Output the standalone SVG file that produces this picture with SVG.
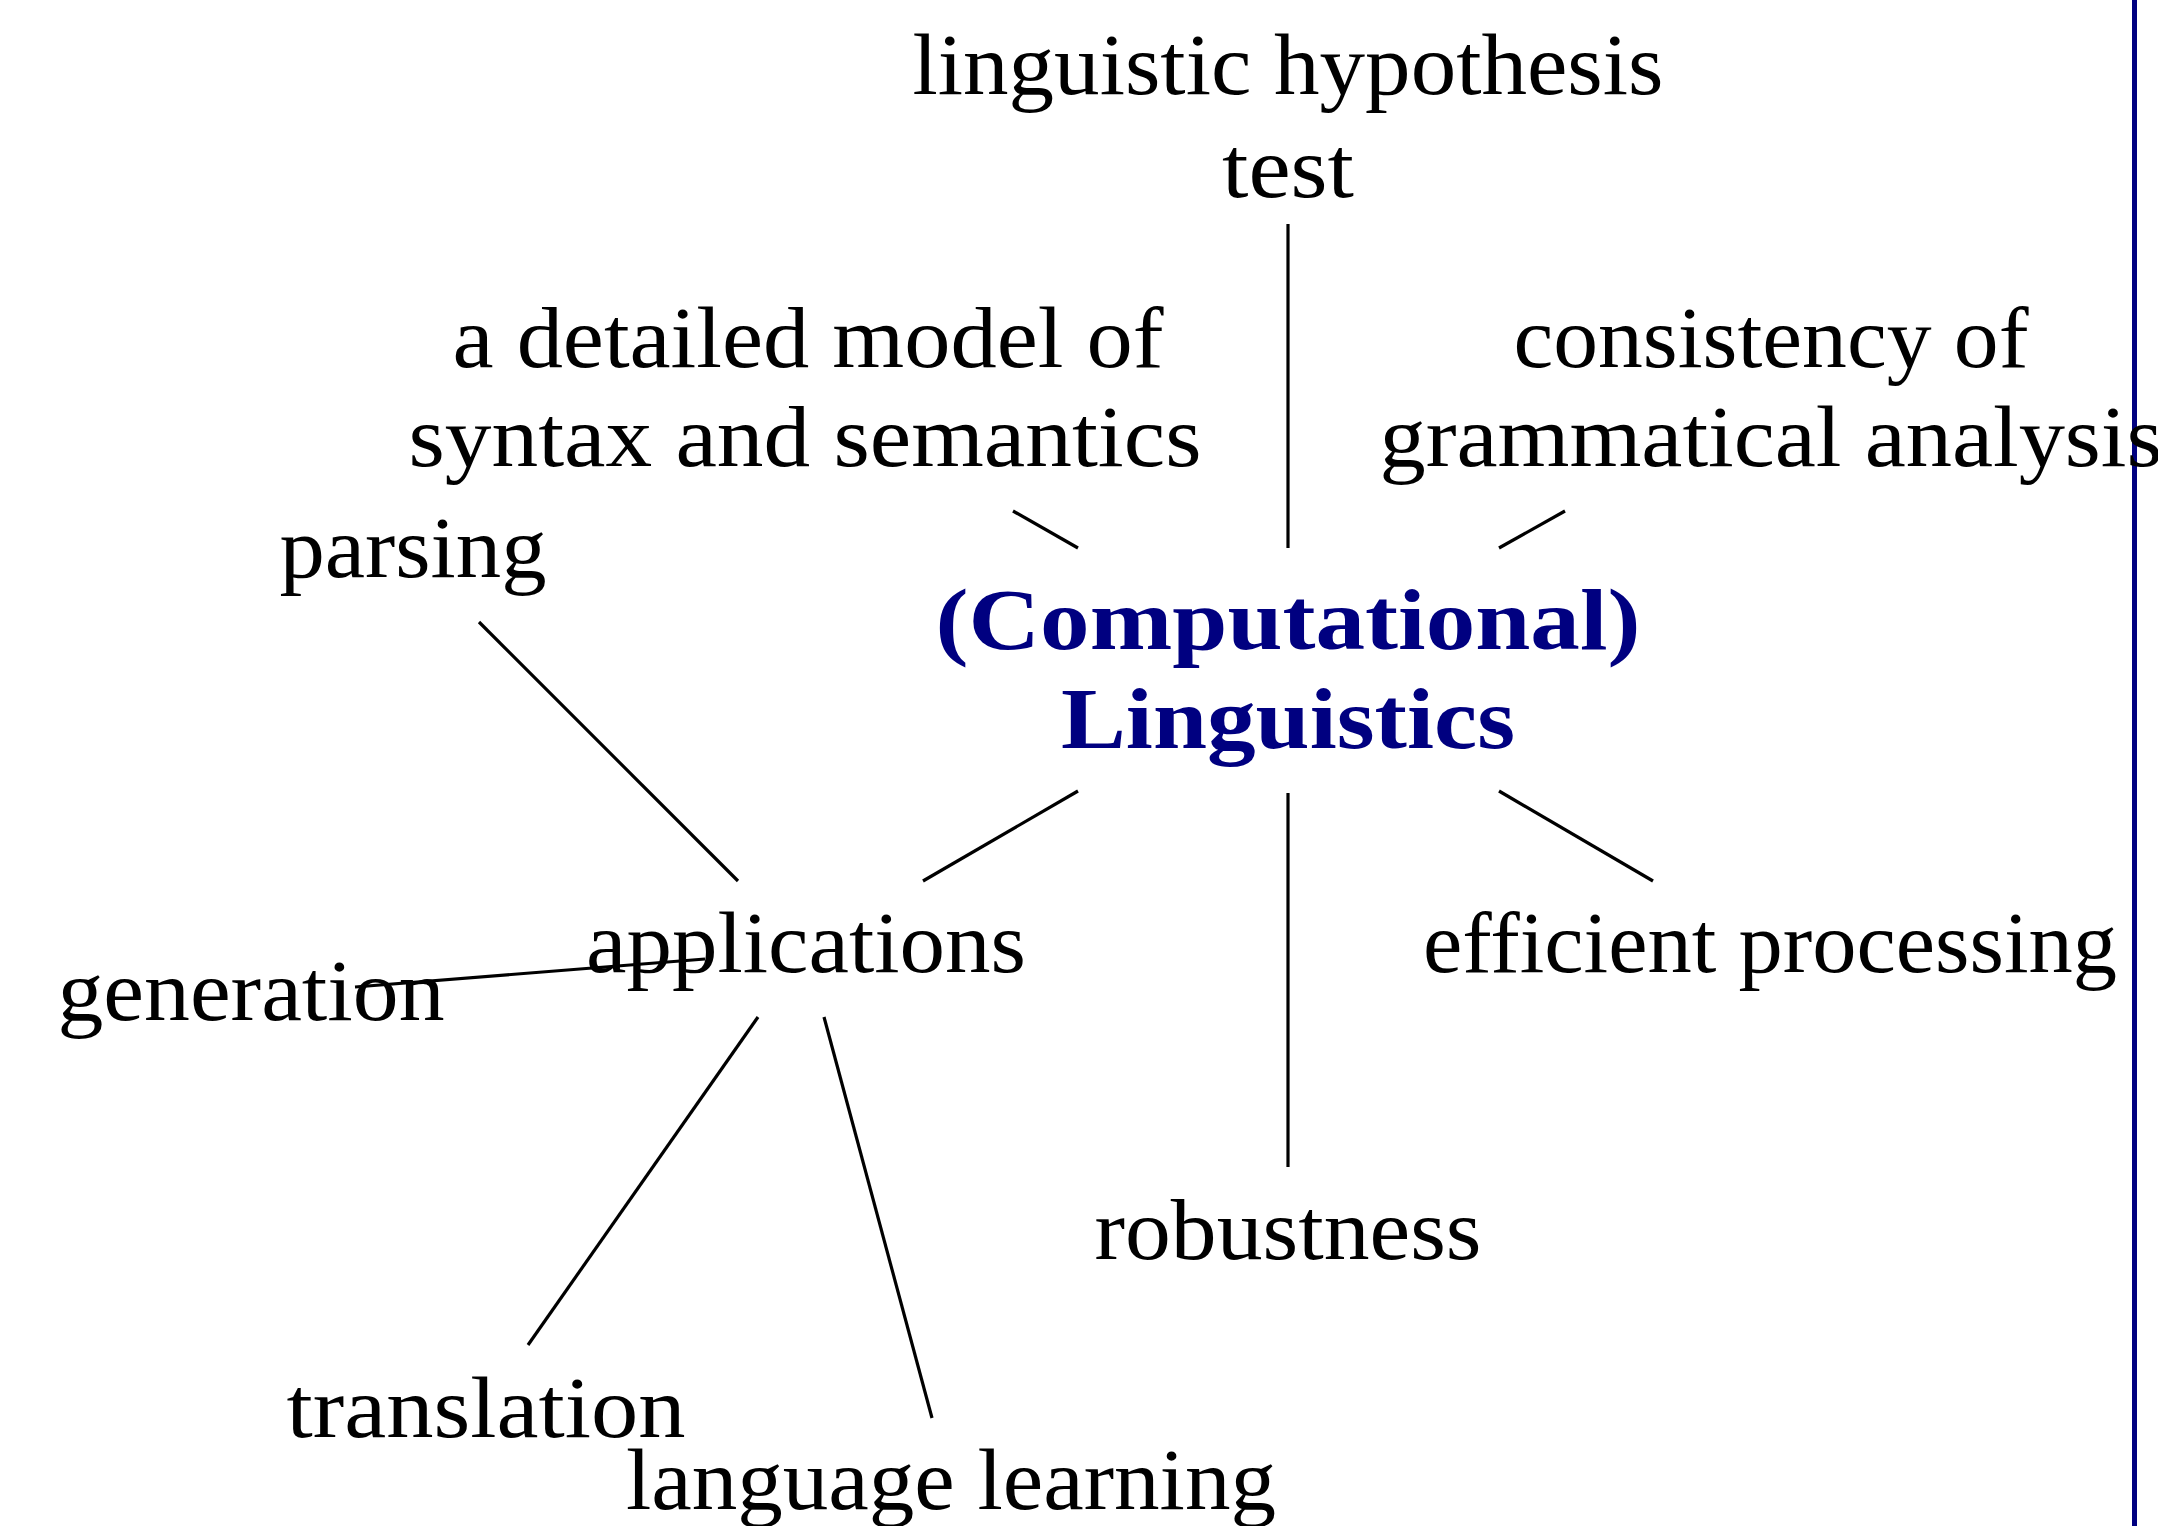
<svg xmlns="http://www.w3.org/2000/svg" width="2158" height="1526" viewBox="0 0 2158 1526">
  <style>
    .t { font-family: "Liberation Serif", "Times New Roman", serif; font-size: 86px; fill: #000; text-anchor: middle; }
    .hub { font-family: "Liberation Serif", "Times New Roman", serif; font-size: 86px; font-weight: bold; fill: #000080; text-anchor: middle; }
    .edge { stroke: #000; stroke-width: 3.2; fill: none; }
  </style>
  <rect x="0" y="0" width="2158" height="1526" fill="#fff"/>

  <!-- frame rule on the right -->
  <rect id="frame-rule" x="2132" y="0" width="5" height="1526" fill="#000080"/>

  <g id="hub">
    <text class="hub" x="1288" y="649" textLength="705" lengthAdjust="spacingAndGlyphs">(Computational)</text>
    <text class="hub" x="1288" y="748" textLength="454" lengthAdjust="spacingAndGlyphs">Linguistics</text>
  </g>

  <g id="hypothesis-test">
    <text class="t" x="1288" y="94" textLength="751" lengthAdjust="spacingAndGlyphs">linguistic hypothesis</text>
    <text class="t" x="1288" y="197" textLength="132" lengthAdjust="spacingAndGlyphs">test</text>
  </g>

  <g id="detailed-model">
    <text class="t" x="808" y="367" textLength="711" lengthAdjust="spacingAndGlyphs">a detailed model of</text>
    <text class="t" x="805" y="466" textLength="793" lengthAdjust="spacingAndGlyphs">syntax and semantics</text>
  </g>

  <g id="consistency">
    <text class="t" x="1771" y="367" textLength="515" lengthAdjust="spacingAndGlyphs">consistency of</text>
    <text class="t" x="1771" y="466" textLength="783" lengthAdjust="spacingAndGlyphs">grammatical analysis</text>
  </g>

  <g id="applications">
    <text class="t" x="806" y="972" textLength="440" lengthAdjust="spacingAndGlyphs">applications</text>
  </g>

  <g id="efficient-processing">
    <text class="t" x="1770" y="972" textLength="694" lengthAdjust="spacingAndGlyphs">efficient processing</text>
  </g>

  <g id="robustness">
    <text class="t" x="1288" y="1259" textLength="387" lengthAdjust="spacingAndGlyphs">robustness</text>
  </g>

  <g id="parsing">
    <text class="t" x="413" y="577" textLength="267" lengthAdjust="spacingAndGlyphs">parsing</text>
  </g>

  <g id="generation">
    <text class="t" x="251" y="1020" textLength="387" lengthAdjust="spacingAndGlyphs">generation</text>
  </g>

  <g id="translation">
    <text class="t" x="486" y="1437" textLength="399" lengthAdjust="spacingAndGlyphs">translation</text>
  </g>

  <g id="language-learning">
    <text class="t" x="951" y="1509" textLength="650" lengthAdjust="spacingAndGlyphs">language learning</text>
  </g>

  <g id="connectors">
    <line class="edge" x1="1288" y1="224" x2="1288" y2="548"/>
    <line class="edge" x1="1013" y1="511" x2="1078" y2="548"/>
    <line class="edge" x1="1565" y1="511" x2="1499" y2="548"/>
    <line class="edge" x1="1078" y1="791" x2="923" y2="881"/>
    <line class="edge" x1="1288" y1="793" x2="1288" y2="1167"/>
    <line class="edge" x1="1499" y1="791" x2="1653" y2="881"/>
    <line class="edge" x1="738" y1="881" x2="479" y2="622"/>
    <line class="edge" x1="705" y1="959" x2="355" y2="987"/>
    <line class="edge" x1="758" y1="1017" x2="528" y2="1345"/>
    <line class="edge" x1="824" y1="1017" x2="932" y2="1418"/>
  </g>
</svg>
